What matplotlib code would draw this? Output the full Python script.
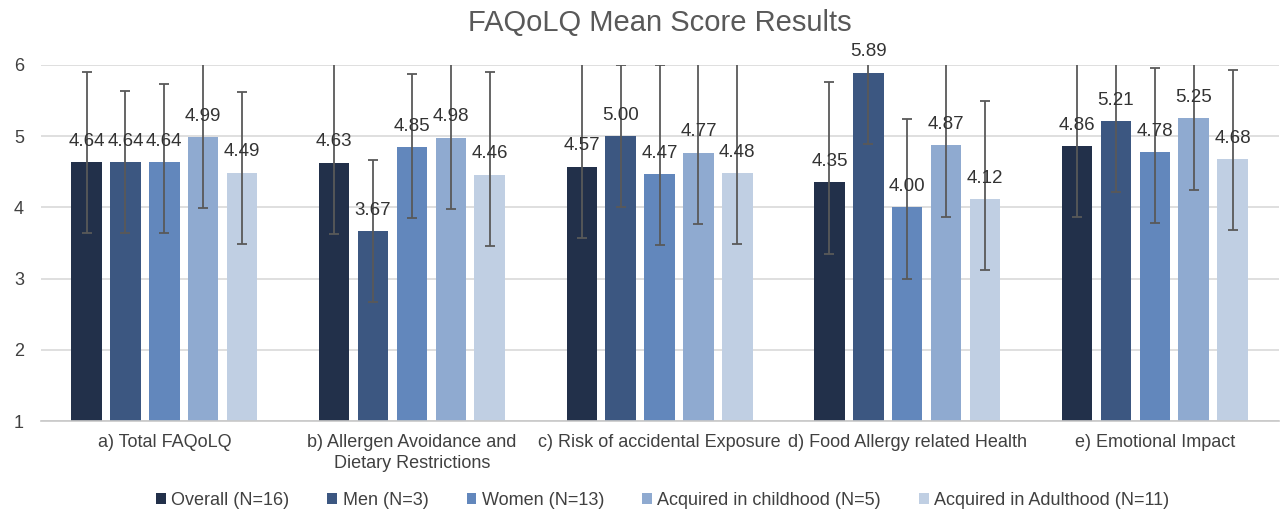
import numpy as np
import matplotlib as mpl
import matplotlib.pyplot as plt

mpl.rcParams['font.family'] = ['Liberation Sans', 'DejaVu Sans']

# data
categories = ['a) Total FAQoLQ', 'b) Allergen Avoidance and\nDietary Restrictions',
              'c) Risk of accidental Exposure', 'd) Food Allergy related Health',
              'e) Emotional Impact']
series_names = ['Overall (N=16)', 'Men (N=3)', 'Women (N=13)',
                'Acquired in childhood (N=5)', 'Acquired in Adulthood (N=11)']
overall = [4.64, 4.63, 4.57, 4.35, 4.86]
men = [4.64, 3.67, 5.00, 5.89, 5.21]
women = [4.64, 4.85, 4.47, 4.00, 4.78]
childhood = [4.99, 4.98, 4.77, 4.87, 5.25]
adulthood = [4.49, 4.46, 4.48, 4.12, 4.68]

# error bars (plus side, minus side is 1.0 everywhere)
err_plus_overall = [1.26, 1.50, 1.60, 1.41, 1.40]
err_plus_men = [1.00, 1.00, 1.00, 1.30, 1.20]
err_plus_women = [1.09, 1.03, 1.53, 1.24, 1.18]
err_plus_childhood = [1.30, 1.30, 1.50, 1.40, 1.20]
err_plus_adulthood = [1.13, 1.44, 1.60, 1.38, 1.25]
err_minus = [1.0, 1.0, 1.0, 1.0, 1.0]

series = [overall, men, women, childhood, adulthood]
err_plus = [err_plus_overall, err_plus_men, err_plus_women,
            err_plus_childhood, err_plus_adulthood]
colors = ['#22304A', '#3C5781', '#6287BC', '#8FAAD0', '#C0CFE3']

fig = plt.figure(figsize=(12.87, 5.13), dpi=100)
ax = fig.add_axes([0.0315, 0.1793, 0.962, 0.694])

x = np.arange(len(categories))
pitch = 0.157
width = 0.123

for i, (vals, ep, col, name) in enumerate(zip(series, err_plus, colors, series_names)):
    pos = x + (i - 2) * pitch
    ax.bar(pos, [v - 1 for v in vals], width, bottom=1, color=col, label=name, zorder=2)
    ax.errorbar(pos, vals, yerr=[err_minus, ep], fmt='none', ecolor='#595959',
                elinewidth=1.3, capsize=3.5, capthick=1.3, zorder=3)
    for p, v in zip(pos, vals):
        ax.annotate('%.2f' % v, (p, v), xytext=(0, 15), textcoords='offset points',
                    ha='center', va='center', fontsize=13.5, color='#333333',
                    annotation_clip=False, zorder=4)

ax.set_ylim(1, 6)
ax.set_xlim(-0.5, 4.5)
ax.set_yticks([1, 2, 3, 4, 5, 6])
ax.set_xticks(x)
ax.set_xticklabels(categories, linespacing=1.35)
ax.tick_params(axis='both', length=0, labelsize=13, labelcolor='#404040')
ax.tick_params(axis='y', pad=12)
ax.tick_params(axis='x', pad=9)
ax.yaxis.grid(True, color='#D9D9D9', linewidth=1.2, zorder=0)
ax.set_axisbelow(True)
for s in ['top', 'right', 'left']:
    ax.spines[s].set_visible(False)
ax.spines['bottom'].set_color('#C8C8C8')
ax.spines['bottom'].set_linewidth(1.2)

fig.text(0.513, 0.955, 'FAQoLQ Mean Score Results', ha='center', va='center',
         fontsize=21, color='#595959')

fig.legend(loc='center', bbox_to_anchor=(0.515, 0.024), ncol=5, frameon=False,
           fontsize=13, labelcolor='#404040', handlelength=0.55, handleheight=0.55,
           handletextpad=0.3, columnspacing=2.1)

fig.savefig('out.png', dpi=100)
